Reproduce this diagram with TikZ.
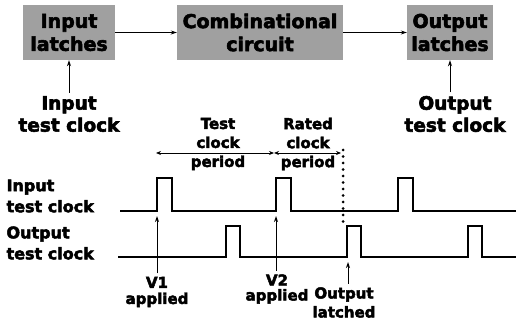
\documentclass[tikz,border=0pt]{standalone}
\usepackage{fontspec}
\setmainfont{DejaVu Sans}[BoldFeatures={FakeBold=3}]
\usetikzlibrary{positioning,arrows.meta}
\definecolor{latchgray}{RGB}{160,160,160}

\begin{document}
\begin{tikzpicture}[x=1pt, y=-1pt,
    latchbox/.style={fill=latchgray, minimum height=55pt, inner sep=0pt, align=center, font=\fontsize{19}{23}\selectfont\bfseries},
    clklabel/.style={align=center, font=\fontsize{18.5}{22}\selectfont\bfseries},
    sig/.style={align=left, anchor=west, font=\fontsize{16}{21}\selectfont\bfseries},
    note/.style={align=center, font=\fontsize{15}{19}\selectfont\bfseries},
    link/.style={-{Stealth[length=6pt,width=4pt]}, line width=1pt},
    span/.style={{Stealth[length=5pt,width=4pt]}-{Stealth[length=5pt,width=4pt]}, line width=0.8pt},
    wave/.style={line width=1.6pt}]
    \useasboundingbox (0,0) rectangle (516,320);

    % block diagram
    \node[latchbox, minimum width=92pt] (inlatch) at (69,32.5) {Input\\latches};
    \node[latchbox, minimum width=166pt] (comb) at (260,32.5) {Combinational\\circuit};
    \node[latchbox, minimum width=86pt] (outlatch) at (450,32.5) {Output\\latches};
    \node[clklabel] (inclk) at (69,114) {Input\\test clock};
    \node[clklabel] (outclk) at (455,114) {Output\\test clock};

    \draw[link] (inlatch) -- (comb);
    \draw[link] (comb) -- (outlatch);
    \draw[link] (inclk.north -| inlatch.south) -- (inlatch.south);
    \draw[link] (outclk.north -| outlatch.south) -- (outlatch.south);

    % timing
    \node[sig] (insig) at (3,196) {Input\\test clock};
    \node[sig] (outsig) at (3,243) {Output\\test clock};
    \draw[wave] (120,211) foreach \s in {157,276,398} { -- (\s,211) -- (\s,178) -- (\s+15,178) -- (\s+15,211) } -- (516,211);
    \draw[wave] (118,257) foreach \s in {226,347,468} { -- (\s,257) -- (\s,226) -- (\s+14,226) -- (\s+14,257) } -- (516,257);

    \node[note] (testper) at (218,144) {Test\\clock\\period};
    \node[note] (ratedper) at (308,144) {Rated\\clock\\period};
    \coordinate (p0) at (156,153);
    \coordinate (p1) at (274,153);
    \coordinate (p2) at (341,153);
    \draw[span] (p0) -- (p1);
    \draw[span] (p1) -- (p2);
    \coordinate (latchtop) at (343,150);
    \coordinate (latchbot) at (343,222);
    \draw[line width=3pt, line cap=round, dash pattern=on 0pt off 6.5pt] (latchtop) -- (latchbot);

    \node[note, font=\fontsize{15}{16}\selectfont\bfseries] (v1) at (157,292) {V1\\applied};
    \node[note, font=\fontsize{15}{15}\selectfont\bfseries] (v2) at (277,289) {V2\\applied};
    \node[note] (outl) at (344,302.5) {Output\\latched};
    \coordinate (v1tip) at (157,216);
    \coordinate (v2tip) at (276,216);
    \coordinate (outltip) at (348,262);
    \draw[link] (v1.north) -- (v1tip);
    \draw[link] (v2.north -| v2tip) -- (v2tip);
    \draw[link] (outl.north -| outltip) -- (outltip);
\end{tikzpicture}
\end{document}
